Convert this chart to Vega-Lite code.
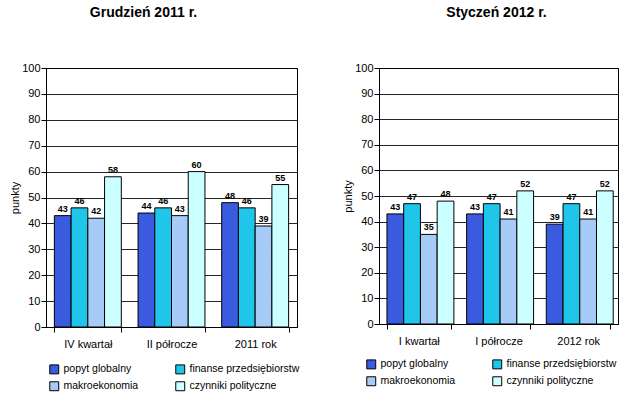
{
  "$schema": "https://vega.github.io/schema/vega-lite/v6.json",
  "background": "white",
  "padding": {"left": 9, "top": 5, "right": 2, "bottom": 2},
  "datasets": {
    "dec": [
      {"okres": "IV kwartał", "czynnik": "popyt globalny", "punkty": 43},
      {"okres": "IV kwartał", "czynnik": "finanse przedsiębiorstw", "punkty": 46},
      {"okres": "IV kwartał", "czynnik": "makroekonomia", "punkty": 42},
      {"okres": "IV kwartał", "czynnik": "czynniki polityczne", "punkty": 58},
      {"okres": "II półrocze", "czynnik": "popyt globalny", "punkty": 44},
      {"okres": "II półrocze", "czynnik": "finanse przedsiębiorstw", "punkty": 46},
      {"okres": "II półrocze", "czynnik": "makroekonomia", "punkty": 43},
      {"okres": "II półrocze", "czynnik": "czynniki polityczne", "punkty": 60},
      {"okres": "2011 rok", "czynnik": "popyt globalny", "punkty": 48},
      {"okres": "2011 rok", "czynnik": "finanse przedsiębiorstw", "punkty": 46},
      {"okres": "2011 rok", "czynnik": "makroekonomia", "punkty": 39},
      {"okres": "2011 rok", "czynnik": "czynniki polityczne", "punkty": 55}
    ],
    "jan": [
      {"okres": "I kwartał", "czynnik": "popyt globalny", "punkty": 43},
      {"okres": "I kwartał", "czynnik": "finanse przedsiębiorstw", "punkty": 47},
      {"okres": "I kwartał", "czynnik": "makroekonomia", "punkty": 35},
      {"okres": "I kwartał", "czynnik": "czynniki polityczne", "punkty": 48},
      {"okres": "I półrocze", "czynnik": "popyt globalny", "punkty": 43},
      {"okres": "I półrocze", "czynnik": "finanse przedsiębiorstw", "punkty": 47},
      {"okres": "I półrocze", "czynnik": "makroekonomia", "punkty": 41},
      {"okres": "I półrocze", "czynnik": "czynniki polityczne", "punkty": 52},
      {"okres": "2012 rok", "czynnik": "popyt globalny", "punkty": 39},
      {"okres": "2012 rok", "czynnik": "finanse przedsiębiorstw", "punkty": 47},
      {"okres": "2012 rok", "czynnik": "makroekonomia", "punkty": 41},
      {"okres": "2012 rok", "czynnik": "czynniki polityczne", "punkty": 52}
    ]
  },
  "config": {
    "font": "Liberation Sans",
    "view": {"stroke": "#000", "strokeWidth": 1},
    "title": {"font": "Liberation Sans", "fontSize": 14, "fontWeight": "bold", "color": "#000", "offset": 42, "frame": "group"},
    "axis": {"labelFont": "Liberation Sans", "titleFont": "Liberation Sans", "labelColor": "#000", "titleColor": "#000", "domainColor": "#000", "tickColor": "#000", "labelFontSize": 11, "titleFontSize": 11, "titleFontWeight": "normal"},
    "legend": {"labelFont": "Liberation Sans", "labelFontSize": 10.5, "labelColor": "#000"}
  },
  "spacing": 41,
  "resolve": {"legend": {"color": "independent"}},
  "hconcat": [
    {
      "title": {"text": "Grudzień 2011 r.", "dx": -28},
      "width": 251,
      "height": 259,
      "data": {"name": "dec"},
      "encoding": {
        "x": {"field": "okres", "type": "nominal", "sort": ["IV kwartał", "II półrocze", "2011 rok"], "title": null,
              "scale": {"paddingInner": 0.2, "paddingOuter": 0.1},
              "axis": {"labelAngle": 0, "tickBand": "extent", "labelPadding": 6, "tickSize": 5}},
        "xOffset": {"field": "czynnik", "type": "nominal", "sort": ["popyt globalny", "finanse przedsiębiorstw", "makroekonomia", "czynniki polityczne"]},
        "y": {"field": "punkty", "type": "quantitative", "title": "punkty",
              "scale": {"domain": [0, 100]},
              "axis": {"values": [0,10,20,30,40,50,60,70,80,90,100], "gridColor": "#000", "gridOpacity": 0.85, "tickSize": 5, "titlePadding": 1, "labelPadding": 1}}
      },
      "layer": [
        {"mark": {"type": "bar", "stroke": "#000", "strokeWidth": 1},
         "encoding": {"color": {"field": "czynnik", "type": "nominal", "sort": ["popyt globalny", "finanse przedsiębiorstw", "makroekonomia", "czynniki polityczne"],
           "scale": {"domain": ["popyt globalny", "finanse przedsiębiorstw", "makroekonomia", "czynniki polityczne"], "range": ["#3a5ae0", "#1fc6ea", "#a6cbf6", "#ccffff"]},
           "legend": {"title": null, "orient": "none", "legendX": 3, "legendY": 296, "direction": "horizontal", "columns": 2, "symbolType": "square", "symbolSize": 80, "symbolStrokeColor": "#000", "symbolStrokeWidth": 1, "gridAlign": "each", "columnPadding": 34, "rowPadding": 3, "labelLimit": 200}}}},
        {"mark": {"type": "text", "dy": -7, "fontSize": 9, "fontWeight": "bold", "color": "#000"},
         "encoding": {"text": {"field": "punkty", "type": "quantitative"}}}
      ]
    },
    {
      "title": {"text": "Styczeń 2012 r.", "dx": -2},
      "width": 239,
      "height": 256,
      "data": {"name": "jan"},
      "encoding": {
        "x": {"field": "okres", "type": "nominal", "sort": ["I kwartał", "I półrocze", "2012 rok"], "title": null,
              "scale": {"paddingInner": 0.2, "paddingOuter": 0.1},
              "axis": {"labelAngle": 0, "tickBand": "extent", "labelPadding": 6, "tickSize": 5}},
        "xOffset": {"field": "czynnik", "type": "nominal", "sort": ["popyt globalny", "finanse przedsiębiorstw", "makroekonomia", "czynniki polityczne"]},
        "y": {"field": "punkty", "type": "quantitative", "title": "punkty",
              "scale": {"domain": [0, 100]},
              "axis": {"values": [0,10,20,30,40,50,60,70,80,90,100], "gridColor": "#000", "gridOpacity": 0.85, "tickSize": 5, "titlePadding": 1, "labelPadding": 1}}
      },
      "layer": [
        {"mark": {"type": "bar", "stroke": "#000", "strokeWidth": 1},
         "encoding": {"color": {"field": "czynnik", "type": "nominal", "sort": ["popyt globalny", "finanse przedsiębiorstw", "makroekonomia", "czynniki polityczne"],
           "scale": {"domain": ["popyt globalny", "finanse przedsiębiorstw", "makroekonomia", "czynniki polityczne"], "range": ["#3a5ae0", "#1fc6ea", "#a6cbf6", "#ccffff"]},
           "legend": {"title": null, "orient": "none", "legendX": -13, "legendY": 291, "direction": "horizontal", "columns": 2, "symbolType": "square", "symbolSize": 80, "symbolStrokeColor": "#000", "symbolStrokeWidth": 1, "gridAlign": "each", "columnPadding": 34, "rowPadding": 3, "labelLimit": 200}}}},
        {"mark": {"type": "text", "dy": -7, "fontSize": 9, "fontWeight": "bold", "color": "#000"},
         "encoding": {"text": {"field": "punkty", "type": "quantitative"}}}
      ]
    }
  ]
}
